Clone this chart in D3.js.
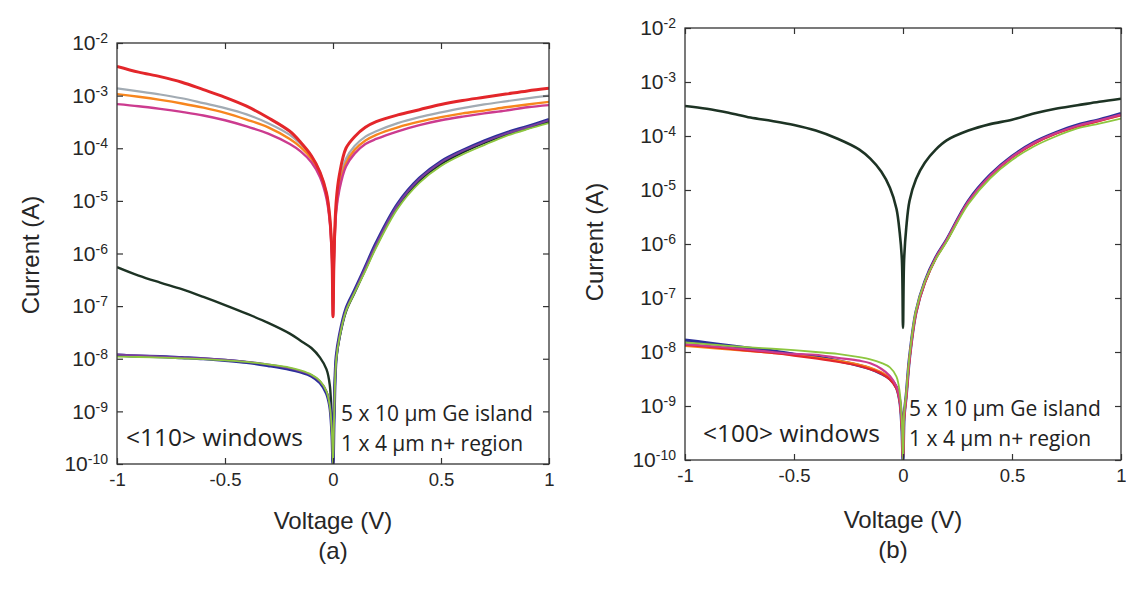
<!DOCTYPE html>
<html><head><meta charset="utf-8">
<script src="https://cdn.jsdelivr.net/npm/d3@7/dist/d3.min.js"></script>
<style>body{margin:0;background:#fff}svg{display:block}</style></head>
<body><svg id="c" width="1126" height="590"></svg>
<script>
// ---------------- data ----------------
const voltage = [-1,-0.9,-0.8,-0.7,-0.6,-0.5,-0.4,-0.3,-0.2,-0.15,-0.1,-0.06,-0.03,-0.015,-0.005,0,0.005,0.015,0.03,0.06,0.1,0.15,0.2,0.3,0.4,0.5,0.6,0.7,0.8,0.9,1];
const xTicks = [-1,-0.5,0,0.5,1];
const xTickLabels = ["-1","-0.5","0","0.5","1"];
const yTicks = [1e-2,1e-3,1e-4,1e-5,1e-6,1e-7,1e-8,1e-9,1e-10];
const yTickExponents = ["-2","-3","-4","-5","-6","-7","-8","-9","-10"];

// panel (a) <110> windows
const a_gray = [1.38e-3,1.2e-3,1.05e-3,8.9e-4,7.2e-4,5.8e-4,4.4e-4,3e-4,1.8e-4,1.2e-4,7.1e-5,3.5e-5,1.4e-5,5e-6,1e-6,1e-7,1e-6,7.9e-6,2.2e-5,6.3e-5,1.1e-4,1.66e-4,2.1e-4,3e-4,3.9e-4,4.8e-4,5.8e-4,6.8e-4,7.8e-4,8.9e-4,1e-3];
const a_orange = [1.07e-3,9.5e-4,8.3e-4,7.1e-4,5.9e-4,4.7e-4,3.5e-4,2.5e-4,1.5e-4,1.05e-4,6.3e-5,3.2e-5,1.26e-5,4.5e-6,1e-6,1e-7,1e-6,7e-6,1.9e-5,5.2e-5,9.3e-5,1.4e-4,1.8e-4,2.5e-4,3.2e-4,3.9e-4,4.6e-4,5.2e-4,6e-4,6.8e-4,7.6e-4];
const a_magenta = [6.9e-4,6.3e-4,5.6e-4,4.9e-4,4.2e-4,3.4e-4,2.6e-4,1.9e-4,1.2e-4,8.7e-5,5.4e-5,2.8e-5,1.1e-5,4e-6,7.9e-7,6.3e-8,7.9e-7,6.3e-6,1.66e-5,4.5e-5,7.9e-5,1.2e-4,1.5e-4,2.1e-4,2.75e-4,3.4e-4,4e-4,4.6e-4,5.2e-4,6e-4,6.6e-4];
const a_red = [3.6e-3,2.8e-3,2.3e-3,1.8e-3,1.3e-3,9.3e-4,6.3e-4,3.8e-4,2.1e-4,1.3e-4,7.2e-5,3.5e-5,1.4e-5,5e-6,1e-6,6.3e-8,1e-6,1e-5,3.2e-5,1e-4,1.66e-4,2.5e-4,3.2e-4,4.3e-4,5.4e-4,6.8e-4,8.1e-4,9.3e-4,1.07e-3,1.23e-3,1.38e-3];
const a_dark = [5.5e-7,3.8e-7,2.8e-7,2.1e-7,1.5e-7,1.05e-7,7.2e-8,4.8e-8,3e-8,2.2e-8,1.6e-8,1.05e-8,6.3e-9,3.2e-9,5e-10,1e-10,1e-9,1e-8,2.5e-8,7.9e-8,1.8e-7,5e-7,1.4e-6,7.9e-6,2.4e-5,5e-5,8.3e-5,1.26e-4,1.8e-4,2.4e-4,3.2e-4];
const a_blue = [1.17e-8,1.12e-8,1.1e-8,1.05e-8,1e-8,9.3e-9,8.5e-9,7.4e-9,6.3e-9,5.6e-9,4.7e-9,3.5e-9,2.2e-9,1.26e-9,4e-10,1e-10,8e-10,1.1e-8,2.8e-8,8.9e-8,2e-7,5.6e-7,1.6e-6,8.9e-6,2.7e-5,5.6e-5,9.1e-5,1.38e-4,1.95e-4,2.6e-4,3.5e-4];
const a_purple = [1.2e-8,1.15e-8,1.1e-8,1.06e-8,1.02e-8,9.6e-9,8.8e-9,7.8e-9,6.6e-9,5.8e-9,4.9e-9,3.7e-9,2.4e-9,1.3e-9,4e-10,1e-10,8e-10,1.05e-8,2.7e-8,8.5e-8,1.9e-7,5.4e-7,1.5e-6,8.5e-6,2.6e-5,5.4e-5,8.9e-5,1.32e-4,1.9e-4,2.5e-4,3.4e-4];
const a_green = [1.1e-8,1.08e-8,1.05e-8,1.02e-8,9.8e-9,9.3e-9,8.7e-9,7.8e-9,6.8e-9,6e-9,5e-9,3.8e-9,2.4e-9,1.3e-9,4e-10,1e-10,7e-10,9.5e-9,2.5e-8,8e-8,1.8e-7,4.7e-7,1.3e-6,7.2e-6,2.2e-5,4.6e-5,7.6e-5,1.15e-4,1.7e-4,2.3e-4,3e-4];

// panel (b) <100> windows
const b_dark = [3.6e-4,3.2e-4,2.7e-4,2.2e-4,1.9e-4,1.6e-4,1.26e-4,8.9e-5,5.6e-5,3.8e-5,2.2e-5,1.1e-5,4.5e-6,1.6e-6,5e-7,2.8e-8,5e-7,2e-6,6.3e-6,1.6e-5,3.2e-5,5.6e-5,8.3e-5,1.26e-4,1.66e-4,2e-4,2.6e-4,3.2e-4,3.7e-4,4.3e-4,4.9e-4];
const b_blue = [1.66e-8,1.48e-8,1.32e-8,1.17e-8,1.05e-8,9.1e-9,8.1e-9,6.9e-9,5.6e-9,4.9e-9,4e-9,3.2e-9,2.2e-9,1.26e-9,4e-10,1e-10,6.3e-10,1.6e-9,7.9e-9,5.6e-8,2e-7,5.6e-7,1.2e-6,6.3e-6,1.9e-5,4.2e-5,7.6e-5,1.15e-4,1.6e-4,2e-4,2.6e-4];
const b_red = [1.35e-8,1.25e-8,1.15e-8,1.05e-8,9.6e-9,8.6e-9,7.6e-9,6.6e-9,5.5e-9,4.8e-9,4e-9,3.1e-9,2.1e-9,1.2e-9,4e-10,1e-10,6e-10,1.5e-9,7.5e-9,5.4e-8,1.9e-7,5.4e-7,1.15e-6,6e-6,1.8e-5,4e-5,7.2e-5,1.1e-4,1.5e-4,1.9e-4,2.45e-4];
const b_orange = [1.3e-8,1.2e-8,1.12e-8,1.04e-8,9.6e-9,8.8e-9,7.9e-9,6.9e-9,5.8e-9,5.1e-9,4.2e-9,3.3e-9,2.2e-9,1.25e-9,4e-10,1e-10,6e-10,1.5e-9,7.5e-9,5.4e-8,1.9e-7,5.4e-7,1.15e-6,6e-6,1.8e-5,4e-5,7.2e-5,1.1e-4,1.5e-4,1.9e-4,2.4e-4];
const b_magenta = [1.4e-8,1.3e-8,1.2e-8,1.1e-8,1e-8,9.2e-9,8.9e-9,7.8e-9,6.9e-9,6.2e-9,4.9e-9,3.6e-9,2.3e-9,1.3e-9,4e-10,1e-10,6e-10,1.5e-9,7.5e-9,5.5e-8,1.95e-7,5.5e-7,1.18e-6,6.1e-6,1.85e-5,4.1e-5,7.4e-5,1.12e-4,1.55e-4,1.95e-4,2.5e-4];
const b_green = [1.5e-8,1.4e-8,1.3e-8,1.22e-8,1.15e-8,1.08e-8,1e-8,9.2e-9,8e-9,7.3e-9,6.3e-9,5.2e-9,3.5e-9,1.8e-9,5e-10,1e-10,7e-10,1.8e-9,8.5e-9,6e-8,2e-7,5.2e-7,1.1e-6,5.5e-6,1.65e-5,3.6e-5,6.4e-5,9.8e-5,1.38e-4,1.7e-4,2.1e-4];

const xLabel = "Voltage (V)";
const yLabel = "Current (A)";
const panelLetters = ["(a)","(b)"];
const windowLabels = ["<110> windows","<100> windows"];
const islandLabel = "5 x 10 \u00b5m Ge island";
const regionLabel = "1 x 4 \u00b5m n+ region";

// ---------------- styles / layout ----------------
const C = {red:"#e3262a",gray:"#a2abb3",orange:"#f7861e",magenta:"#cc3b8f",dark:"#1d3324",
           blue:"#2b2f9a",purple:"#7b3f9e",green:"#8dc63f"};
const AX_FONT = "'Liberation Sans', Arial, sans-serif";
const ANN_FONT = "'Open Sans', Lato, sans-serif";
const TXT = "#262626";

const panels = [
  {x0:117,x1:549,y0:43,y1:464, letter:panelLetters[0], win:windowLabels[0],
   ylabX:30, ylabY:255, xlabY:520, letterY:550, letterX:333,
   winX:126, winY:436, annX:341, islY:413, regY:443,
   series:[
    {v:a_gray,c:C.gray,w:2.2},{v:a_orange,c:C.orange,w:2.4},
    {v:a_magenta,c:C.magenta,w:2.4},{v:a_red,c:C.red,w:3},
    {v:a_dark,c:C.dark,w:2.4},{v:a_blue,c:C.blue,w:3.2},{v:a_purple,c:C.purple,w:2},{v:a_green,c:C.green,w:1.8}
   ]},
  {x0:685,x1:1121,y0:28,y1:460, letter:panelLetters[1], win:windowLabels[1],
   ylabX:594, ylabY:242, xlabY:519, letterY:549, letterX:893,
   winX:703, winY:432, annX:909, islY:408, regY:438,
   series:[
    {v:b_dark,c:C.dark,w:2.6},{v:b_blue,c:C.blue,w:3.2},{v:b_orange,c:C.orange,w:2.2},
    {v:b_red,c:C.red,w:2.2},{v:b_magenta,c:C.magenta,w:2.2},{v:b_green,c:C.green,w:1.8}
   ]}
];

const svg = d3.select("#c");

panels.forEach((p,pi)=>{
  const x = d3.scaleLinear().domain([-1,1]).range([p.x0,p.x1]);
  const y = d3.scaleLog().domain([1e-10,1e-2]).range([p.y1,p.y0]);
  const g = svg.append("g");
  const cid = "clip"+pi;
  g.append("clipPath").attr("id",cid).append("rect")
    .attr("x",p.x0).attr("y",p.y0).attr("width",p.x1-p.x0).attr("height",p.y1-p.y0);

  const line = d3.line().x((d,i)=>x(voltage[i])).y(d=>y(d)).curve(d3.curveCatmullRom.alpha(0.5));
  const curves = g.append("g").attr("clip-path",`url(#${cid})`);
  p.series.forEach(s=>{
    curves.append("path").attr("d",line(s.v)).attr("fill","none")
      .attr("stroke",s.c).attr("stroke-width",s.w).attr("stroke-linejoin","round");
  });

  const styleAxis = sel => { sel.attr("font-family",AX_FONT).attr("font-size",18.5);
    sel.select(".domain").remove(); sel.selectAll(".tick line").attr("stroke","#333").attr("stroke-width",1.2);
    sel.selectAll(".tick text").attr("fill",TXT); };
  g.append("g").attr("transform",`translate(0,${p.y1})`)
    .call(d3.axisBottom(x).tickValues(xTicks).tickFormat((d,i)=>xTickLabels[i]).tickSizeInner(-6).tickSizeOuter(0).tickPadding(9))
    .call(styleAxis);
  g.append("g").attr("transform",`translate(0,${p.y0})`)
    .call(d3.axisTop(x).tickValues(xTicks).tickFormat("").tickSizeInner(-6).tickSizeOuter(0)).call(styleAxis);
  g.append("g").attr("transform",`translate(${p.x1},0)`)
    .call(d3.axisRight(y).tickValues(yTicks).tickFormat("").tickSizeInner(-6).tickSizeOuter(0)).call(styleAxis);
  const la = g.append("g").attr("transform",`translate(${p.x0},0)`)
    .call(d3.axisLeft(y).tickValues(yTicks).tickFormat("").tickSizeInner(-6).tickSizeOuter(0).tickPadding(9))
    .call(styleAxis);
  la.selectAll(".tick text").attr("font-size",21).each(function(d,i){
    const t = d3.select(this);
    t.append("tspan").text("10");
    t.append("tspan").attr("dy","-0.5em").attr("font-size",14).text(yTickExponents[i]);
  });

  g.append("rect").attr("x",p.x0).attr("y",p.y0).attr("width",p.x1-p.x0).attr("height",p.y1-p.y0)
    .attr("fill","none").attr("stroke","#333").attr("stroke-width",1.3);

  g.append("text").attr("transform",`translate(${p.ylabX},${p.ylabY}) rotate(-90)`)
    .attr("text-anchor","middle").attr("dominant-baseline","central")
    .attr("font-family",AX_FONT).attr("font-size",24).attr("fill",TXT).text(yLabel);
  g.append("text").attr("x",(p.x0+p.x1)/2).attr("y",p.xlabY).attr("text-anchor","middle")
    .attr("dominant-baseline","central").attr("font-family",AX_FONT).attr("font-size",24).attr("fill",TXT).text(xLabel);
  g.append("text").attr("x",p.letterX).attr("y",p.letterY).attr("text-anchor","middle")
    .attr("dominant-baseline","central").attr("font-family",AX_FONT).attr("font-size",24).attr("fill",TXT).text(p.letter);

  const ann = (tx,ty,s,fs)=> g.append("text").attr("x",tx).attr("y",ty).attr("dominant-baseline","central")
    .attr("font-family",ANN_FONT).attr("font-size",fs).attr("fill","#222").text(s);
  ann(p.winX,p.winY,p.win,24.5);
  ann(p.annX,p.islY,islandLabel,21);
  ann(p.annX,p.regY,regionLabel,21);
});
</script></body></html>
